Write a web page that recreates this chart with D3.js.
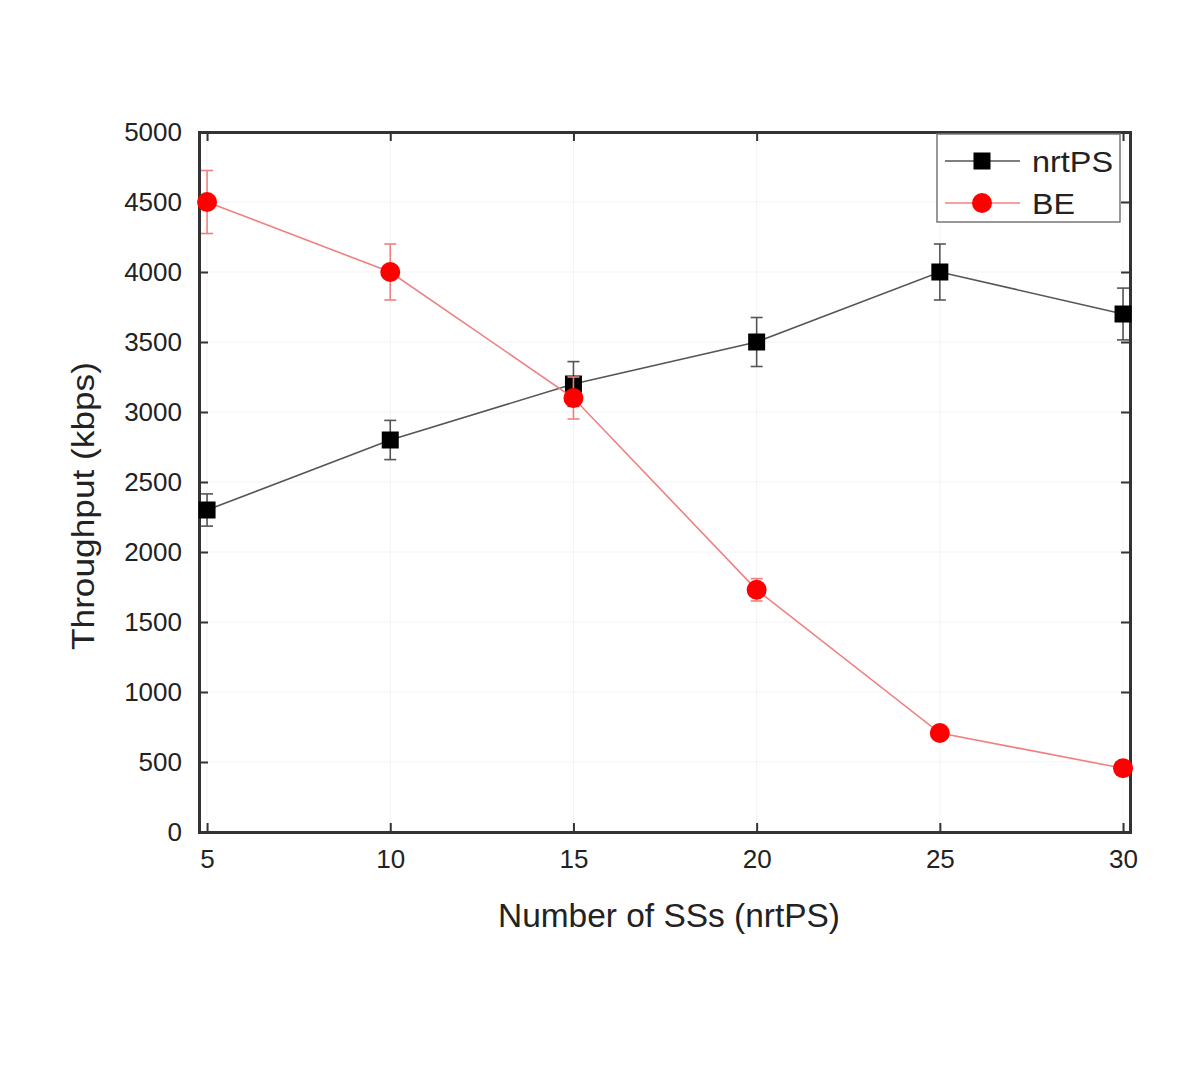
<!DOCTYPE html>
<html><head><meta charset="utf-8">
<script src="https://cdn.jsdelivr.net/npm/d3@7"></script>
<style>body{margin:0;background:#fff}svg{display:block}text{font-family:"Liberation Sans",Arial,sans-serif}</style>
</head><body><svg id="c" width="1200" height="1072"></svg>
<script>
const xValues = [5, 10, 15, 20, 25, 30];
const nrtPS = [2300, 2800, 3200, 3500, 4000, 3700];
const nrtPSErr = [115, 140, 160, 175, 200, 185];
const BE = [4500, 4000, 3100, 1730, 707, 455];
const BEErr = [225, 200, 150, 80, 30, 25];
const yTicks = [0, 500, 1000, 1500, 2000, 2500, 3000, 3500, 4000, 4500, 5000];
const xTicks = [5, 10, 15, 20, 25, 30];

const svg = d3.select("#c");
const L = 199, R = 1130, T = 132, B = 832;
const x = d3.scaleLinear().domain([4.78, 30.19]).range([L, R]);
const y = d3.scaleLinear().domain([0, 5000]).range([B, T]);

// faint grid
const g = svg.append("g");
g.selectAll(".gy").data(yTicks).join("line").attr("x1", L).attr("x2", R)
  .attr("y1", d => y(d)).attr("y2", d => y(d)).attr("stroke", "#f3f3f3").attr("stroke-width", 1);
g.selectAll(".gx").data(xTicks).join("line").attr("y1", T).attr("y2", B)
  .attr("x1", d => x(d)).attr("x2", d => x(d)).attr("stroke", "#f3f3f3").attr("stroke-width", 1);

// axes
const axCol = "#333";
const ax = svg.append("g");
const yAxis = ax.append("g").attr("transform", `translate(${L},0)`)
  .call(d3.axisLeft(y).tickValues(yTicks).tickSize(-9).tickPadding(17).tickFormat(d3.format("d")));
const xAxis = ax.append("g").attr("transform", `translate(0,${B})`)
  .call(d3.axisBottom(x).tickValues(xTicks).tickSize(-9).tickPadding(18).tickFormat(d3.format("d")));
const yAxisR = ax.append("g").attr("transform", `translate(${R},0)`)
  .call(d3.axisRight(y).tickValues(yTicks).tickSize(-9).tickFormat(""));
const xAxisT = ax.append("g").attr("transform", `translate(0,${T})`)
  .call(d3.axisTop(x).tickValues(xTicks).tickSize(-9).tickFormat(""));
[yAxis, xAxis, yAxisR, xAxisT].forEach(a => {
  a.select(".domain").attr("stroke", axCol).attr("stroke-width", 3);
  a.selectAll(".tick line").attr("stroke", axCol).attr("stroke-width", 2);
  a.selectAll(".tick text").attr("fill", "#222").style("font-size", "26px");
});

// axis titles
svg.append("text").attr("x", 669).attr("y", 927).attr("text-anchor", "middle")
  .attr("textLength", 342).attr("lengthAdjust", "spacingAndGlyphs")
  .style("font-size", "33px").attr("fill", "#222").text("Number of SSs (nrtPS)");
svg.append("text").attr("transform", "translate(94,506) rotate(-90)").attr("text-anchor", "middle")
  .attr("textLength", 288).attr("lengthAdjust", "spacingAndGlyphs")
  .style("font-size", "31px").attr("fill", "#222").text("Throughput (kbps)");

function drawSeries(vals, errs, lineCol, errCol, marker) {
  const pts = xValues.map((d, i) => ({x: d, y: vals[i], e: errs[i]}));
  svg.append("path").datum(pts).attr("fill", "none").attr("stroke", lineCol).attr("stroke-width", 1.6)
    .attr("d", d3.line().x(d => x(d.x)).y(d => y(d.y)));
  const eg = svg.append("g").attr("stroke", errCol).attr("stroke-width", 1.6);
  pts.forEach(p => {
    eg.append("line").attr("x1", x(p.x)).attr("x2", x(p.x)).attr("y1", y(p.y + p.e)).attr("y2", y(p.y - p.e));
    eg.append("line").attr("x1", x(p.x) - 6).attr("x2", x(p.x) + 6).attr("y1", y(p.y + p.e)).attr("y2", y(p.y + p.e));
    eg.append("line").attr("x1", x(p.x) - 6).attr("x2", x(p.x) + 6).attr("y1", y(p.y - p.e)).attr("y2", y(p.y - p.e));
  });
  const mg = svg.append("g");
  pts.forEach(p => marker(mg, x(p.x), y(p.y)));
}
const sq = (gp, cx, cy) => gp.append("rect").attr("x", cx - 8.5).attr("y", cy - 8.5).attr("width", 17).attr("height", 17).attr("fill", "#000");
const ci = (gp, cx, cy) => gp.append("circle").attr("cx", cx).attr("cy", cy).attr("r", 10).attr("fill", "#f00");

drawSeries(nrtPS, nrtPSErr, "#555", "#555", sq);
drawSeries(BE, BEErr, "#f08080", "#f08080", ci);

// legend
const lg = svg.append("g");
lg.append("rect").attr("x", 937).attr("y", 134).attr("width", 183).attr("height", 88)
  .attr("fill", "#fff").attr("stroke", "#777").attr("stroke-width", 1.5);
const legendItems = [{name: "nrtPS", col: "#555", m: sq, yy: 161, tl: 81}, {name: "BE", col: "#f08080", m: ci, yy: 203, tl: 43}];
legendItems.forEach(it => {
  lg.append("line").attr("x1", 945).attr("x2", 1020).attr("y1", it.yy).attr("y2", it.yy).attr("stroke", it.col).attr("stroke-width", 1.6);
  it.m(lg, 982, it.yy);
  lg.append("text").attr("x", 1032).attr("y", it.yy + 11).attr("textLength", it.tl).attr("lengthAdjust", "spacingAndGlyphs")
    .style("font-size", "30px").attr("fill", "#222").text(it.name);
});
</script></body></html>
